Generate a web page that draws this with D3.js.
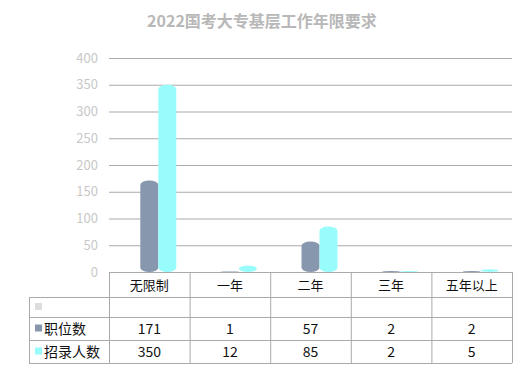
<!DOCTYPE html>
<html>
<head>
<meta charset="utf-8">
<script src="https://cdn.jsdelivr.net/npm/d3@7"></script>
<style>
  body { margin: 0; background: #fff; }
  text { font-family: "Microsoft YaHei", "Noto Sans CJK SC", sans-serif; }
</style>
</head>
<body>
<div id="chart"></div>
<script>
// Chart data.
var categories = ['无限制', '一年', '二年', '三年', '五年以上'];
var seriesNames = ['', '职位数', '招录人数'];
var blankValues = [0, 0, 0, 0, 0];
var postValues = [171, 1, 57, 2, 2];
var hireValues = [350, 12, 85, 2, 5];
var yTicks = [0, 50, 100, 150, 200, 250, 300, 350, 400];

var SERIES_COLORS = ['#dddddd', '#8797ad', '#99fcfc'];

var WIDTH = 531;
var HEIGHT = 385;
var LEFT = 109;
var RIGHT = 512;
var TOP = 58;
var BOTTOM = 272;
var LABEL_LEFT = 29;
var ROW_EDGES = [272, 297, 317, 340, 363];

function main() {
  var series = [blankValues, postValues, hireValues];

  var svg = d3.select('#chart').append('svg')
    .attr('width', WIDTH)
    .attr('height', HEIGHT);

  var x = d3.scaleBand().domain(categories).range([LEFT, RIGHT]);
  var y = d3.scaleLinear().domain([0, 400]).range([BOTTOM, TOP]);
  var inner = d3.scaleBand().domain(d3.range(series.length))
    .range([0, x.bandwidth()]).paddingOuter(0.74);

  // Title
  svg.append('text')
    .attr('x', 262).attr('y', 27)
    .attr('text-anchor', 'middle')
    .attr('font-size', 16).attr('font-weight', 'bold')
    .attr('fill', '#b8b8b8')
    .text('2022国考大专基层工作年限要求');

  // Grid lines and y labels
  var axis = d3.axisLeft(y).tickValues(yTicks).tickSize(-(RIGHT - LEFT)).tickPadding(11);
  var g = svg.append('g').attr('transform', 'translate(' + LEFT + ',0)').call(axis);
  g.select('.domain').remove();
  g.selectAll('.tick line').attr('stroke', '#aaa').attr('stroke-width', 1);
  g.selectAll('.tick text')
    .attr('fill', '#c8c8c8').attr('font-size', 13)
    .attr('font-family', '"Microsoft YaHei", "Noto Sans CJK SC", sans-serif');

  // Cylinder bars
  series.forEach(function(values, si) {
    if (si === 0) return;
    svg.append('g').selectAll('rect')
      .data(values)
    .enter().append('rect')
      .attr('x', function(d, i) { return x(categories[i]) + inner(si); })
      .attr('y', function(d) { return y(d); })
      .attr('width', inner.bandwidth())
      .attr('height', function(d) { return Math.max(1, BOTTOM - y(d)); })
      .attr('rx', inner.bandwidth() / 2)
      .attr('ry', function(d) { return Math.min(4.5, (BOTTOM - y(d)) / 2); })
      .attr('fill', SERIES_COLORS[si]);
  });

  // Data table
  var table = svg.append('g')
    .attr('fill', 'none').attr('stroke', '#aaa').attr('stroke-width', 1);
  var edges = categories.map(function(c) { return x(c); }).concat([RIGHT]);
  // verticals for category columns
  edges.forEach(function(ex) {
    table.append('line')
      .attr('x1', ex + 0.5).attr('x2', ex + 0.5)
      .attr('y1', ROW_EDGES[0]).attr('y2', ROW_EDGES[ROW_EDGES.length - 1]);
  });
  table.append('line')
    .attr('x1', LABEL_LEFT + 0.5).attr('x2', LABEL_LEFT + 0.5)
    .attr('y1', ROW_EDGES[1]).attr('y2', ROW_EDGES[ROW_EDGES.length - 1]);
  ROW_EDGES.forEach(function(ry, ri) {
    table.append('line')
      .attr('x1', ri === 0 ? LEFT : LABEL_LEFT).attr('x2', RIGHT)
      .attr('y1', ry + 0.5).attr('y2', ry + 0.5);
  });

  // header
  svg.append('g').selectAll('text')
    .data(categories)
  .enter().append('text')
    .attr('x', function(d) { return x(d) + x.bandwidth() / 2; })
    .attr('y', (ROW_EDGES[0] + ROW_EDGES[1]) / 2 + 5)
    .attr('text-anchor', 'middle')
    .attr('font-size', 13).attr('fill', '#111')
    .text(function(d) { return d; });

  // series rows
  series.forEach(function(values, si) {
    var cy = (ROW_EDGES[si + 1] + ROW_EDGES[si + 2]) / 2;
    svg.append('rect')
      .attr('x', LABEL_LEFT + 6).attr('y', cy - 4)
      .attr('width', 7).attr('height', 7)
      .attr('fill', SERIES_COLORS[si]);
    svg.append('text')
      .attr('x', LABEL_LEFT + 15).attr('y', cy + 5)
      .attr('font-size', 14).attr('fill', '#111')
      .text(seriesNames[si]);
    if (si === 0) return;
    svg.append('g').selectAll('text')
      .data(values)
    .enter().append('text')
      .attr('x', function(d, i) { return x(categories[i]) + x.bandwidth() / 2; })
      .attr('y', cy + 5)
      .attr('text-anchor', 'middle')
      .attr('font-size', 14).attr('fill', '#111')
      .text(function(d) { return d; });
  });
}
main();
</script>
</body>
</html>
